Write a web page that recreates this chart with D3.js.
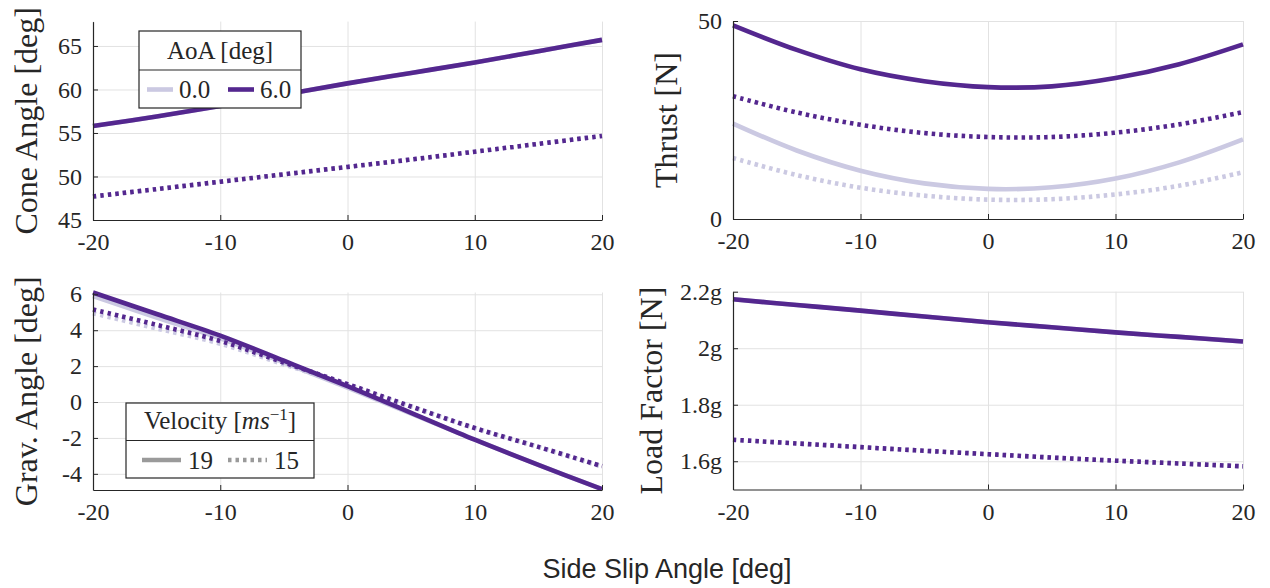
<!DOCTYPE html>
<html>
<head>
<meta charset="utf-8">
<script src="https://cdn.jsdelivr.net/npm/d3@7"></script>
<style>
  body { margin: 0; background: #fff; }
  text { fill: #262626; }
</style>
</head>
<body>
<svg id="chart"></svg>
<script>
var width = 1270,
    height = 588;

// side slip angle samples [deg]
var slip = [-20, -15, -10, -5, 0, 5, 10, 15, 20];

// cone angle [deg]  (AoA 0 lines sit under the AoA 6 ones)
var cone_aoa0_v19 = [55.8, 56.9, 58.1, 59.4, 60.7, 61.9, 63.1, 64.4, 65.7];
var cone_aoa0_v15 = [47.7, 48.55, 49.4, 50.25, 51.1, 51.95, 52.85, 53.75, 54.65];
var cone_aoa6_v19 = [55.8, 56.9, 58.1, 59.4, 60.7, 61.9, 63.1, 64.4, 65.7];
var cone_aoa6_v15 = [47.7, 48.55, 49.4, 50.25, 51.1, 51.95, 52.85, 53.75, 54.65];

// thrust [N]
var thrust_aoa0_v19 = [24.1, 17.3, 12.2, 9.0, 7.6, 8.0, 10.2, 14.3, 20.1];
var thrust_aoa0_v15 = [15.4, 11.1, 7.9, 5.9, 4.9, 5.0, 6.2, 8.4, 11.8];
var thrust_aoa6_v19 = [48.9, 42.7, 37.8, 34.8, 33.3, 33.5, 35.6, 39.1, 44.1];
var thrust_aoa6_v15 = [31.0, 26.9, 23.8, 21.7, 20.7, 20.7, 21.8, 23.9, 27.0];

// gravity angle [deg]
var grav_aoa0_v19 = [5.9, 4.7, 3.55, 2.2, 0.8, -0.65, -2.1, -3.5, -4.85];
var grav_aoa0_v15 = [4.95, 4.1, 3.25, 2.1, 0.95, -0.25, -1.45, -2.5, -3.6];
var grav_aoa6_v19 = [6.1, 4.9, 3.7, 2.3, 0.88, -0.6, -2.1, -3.5, -4.85];
var grav_aoa6_v15 = [5.15, 4.3, 3.4, 2.2, 1.0, -0.25, -1.45, -2.5, -3.57];

// load factor [g]
var load_aoa0_v19 = [2.173, 2.153, 2.133, 2.112, 2.092, 2.074, 2.056, 2.040, 2.024];
var load_aoa0_v15 = [1.676, 1.663, 1.650, 1.637, 1.625, 1.613, 1.602, 1.592, 1.582];
var load_aoa6_v19 = [2.173, 2.153, 2.133, 2.112, 2.092, 2.074, 2.056, 2.040, 2.024];
var load_aoa6_v15 = [1.676, 1.663, 1.650, 1.637, 1.625, 1.613, 1.602, 1.592, 1.582];

var xTicks = [-20, -10, 0, 10, 20];
var aoaLabels = ["0.0", "6.0"];
var velLabels = ["19", "15"];

var lightPurple = "#cbc9e2",
    darkPurple = "#54278f",
    legendGray = "#9a9a9a",
    serif = "'Liberation Serif', 'DejaVu Serif', serif";

// plain hyphen for negatives, like the original
var plain = function(d) { return String(d); };

var svg = d3.select("#chart")
    .attr("width", width)
    .attr("height", height);

var panels = [
  { left: 93, right: 602, top: 21.6, bottom: 220, domain: [45, 67.8], ticks: [45, 50, 55, 60, 65],
    fmt: plain, label: "Cone Angle [deg]", labelX: 37,
    series: [cone_aoa0_v19, cone_aoa0_v15, cone_aoa6_v19, cone_aoa6_v15] },
  { left: 733, right: 1243, top: 21, bottom: 219, domain: [0, 50], ticks: [0, 50],
    fmt: plain, label: "Thrust [N]", labelX: 677,
    series: [thrust_aoa0_v19, thrust_aoa0_v15, thrust_aoa6_v19, thrust_aoa6_v15] },
  { left: 93, right: 602, top: 292.5, bottom: 490, domain: [-4.9, 6.1], ticks: [-4, -2, 0, 2, 4, 6],
    fmt: plain, label: "Grav. Angle [deg]", labelX: 37,
    series: [grav_aoa0_v19, grav_aoa0_v15, grav_aoa6_v19, grav_aoa6_v15] },
  { left: 733, right: 1243, top: 291.7, bottom: 489.5, domain: [1.5, 2.2], ticks: [1.6, 1.8, 2.0, 2.2],
    fmt: function(d) { return d3.format("~g")(d) + "g"; }, label: "Load Factor [N]", labelX: 662,
    series: [load_aoa0_v19, load_aoa0_v15, load_aoa6_v19, load_aoa6_v15] }
];

// colour and dash for each series: AoA 0 / AoA 6, 19 / 15 m/s
var seriesStyle = [
  { color: lightPurple, dash: null },
  { color: lightPurple, dash: "3.5,4" },
  { color: darkPurple, dash: null },
  { color: darkPurple, dash: "3.5,4" }
];

panels.forEach(function(p) {
  var x = d3.scaleLinear().domain([-20, 20]).range([p.left, p.right]);
  var y = d3.scaleLinear().domain(p.domain).range([p.bottom, p.top]);
  var g = svg.append("g");

  // grid
  g.append("g")
    .attr("transform", "translate(0," + p.bottom + ")")
    .call(d3.axisBottom(x).tickValues(xTicks).tickSize(-(p.bottom - p.top)).tickFormat(""))
    .call(function(s) { s.select(".domain").remove(); })
    .selectAll("line").attr("stroke", "#e2e2e2").attr("stroke-width", 1);
  g.append("g")
    .attr("transform", "translate(" + p.left + ",0)")
    .call(d3.axisLeft(y).tickValues(p.ticks).tickSize(-(p.right - p.left)).tickFormat(""))
    .call(function(s) { s.select(".domain").remove(); })
    .selectAll("line").attr("stroke", "#e2e2e2").attr("stroke-width", 1);

  // lines
  var line = d3.line()
    .x(function(d, i) { return x(slip[i]); })
    .y(function(d) { return y(d); })
    .curve(d3.curveCatmullRom);

  p.series.forEach(function(vals, i) {
    g.append("path")
      .attr("d", line(vals))
      .attr("fill", "none")
      .attr("stroke", seriesStyle[i].color)
      .attr("stroke-width", 4.6)
      .attr("stroke-dasharray", seriesStyle[i].dash);
  });

  // axes (inward ticks)
  var xAxis = g.append("g")
    .attr("transform", "translate(0," + p.bottom + ")")
    .call(d3.axisBottom(x).tickValues(xTicks).tickSize(-5).tickSizeOuter(0).tickPadding(13).tickFormat(plain));
  var yAxis = g.append("g")
    .attr("transform", "translate(" + p.left + ",0)")
    .call(d3.axisLeft(y).tickValues(p.ticks).tickSize(-5).tickSizeOuter(0).tickPadding(11).tickFormat(p.fmt));

  [xAxis, yAxis].forEach(function(a) {
    a.attr("font-family", null);
    a.select(".domain").attr("stroke", "#262626").attr("stroke-width", 1.2);
    a.selectAll(".tick line").attr("stroke", "#262626");
    a.selectAll("text")
      .style("font-family", serif)
      .style("font-size", "24px")
      .attr("fill", "#262626");
  });

  g.append("text")
    .attr("transform", "translate(" + p.labelX + "," + ((p.top + p.bottom) / 2) + ") rotate(-90)")
    .attr("text-anchor", "middle")
    .style("font-family", serif)
    .style("font-size", "32px")
    .text(p.label);
});

// AoA legend
var leg1 = svg.append("g");
leg1.append("rect")
  .attr("x", 139).attr("y", 31).attr("width", 162).attr("height", 77)
  .attr("fill", "#fff").attr("stroke", "#262626").attr("stroke-width", 1.2);
leg1.append("line")
  .attr("x1", 139).attr("x2", 301).attr("y1", 70).attr("y2", 70)
  .attr("stroke", "#262626").attr("stroke-width", 1.2);
leg1.append("text")
  .attr("x", 220).attr("y", 59).attr("text-anchor", "middle")
  .style("font-family", serif).style("font-size", "25px")
  .text("AoA [deg]");
var aoaKey = [{ x: 147, color: lightPurple }, { x: 228, color: darkPurple }];
aoaKey.forEach(function(k, i) {
  leg1.append("line")
    .attr("x1", k.x).attr("x2", k.x + 26).attr("y1", 89.5).attr("y2", 89.5)
    .attr("stroke", k.color).attr("stroke-width", 4.6);
  leg1.append("text")
    .attr("x", k.x + 32).attr("y", 98)
    .style("font-family", serif).style("font-size", "25px")
    .text(aoaLabels[i]);
});

// Velocity legend
var leg2 = svg.append("g");
leg2.append("rect")
  .attr("x", 126).attr("y", 403).attr("width", 188).attr("height", 75)
  .attr("fill", "#fff").attr("stroke", "#262626").attr("stroke-width", 1.2);
leg2.append("line")
  .attr("x1", 126).attr("x2", 314).attr("y1", 440.5).attr("y2", 440.5)
  .attr("stroke", "#262626").attr("stroke-width", 1.2);
var vt = leg2.append("text")
  .attr("x", 220).attr("y", 429).attr("text-anchor", "middle")
  .style("font-family", serif).style("font-size", "25px");
vt.append("tspan").text("Velocity [");
vt.append("tspan").style("font-style", "italic").text("ms");
vt.append("tspan").attr("dy", -9).style("font-size", "17px").text("\u22121");
vt.append("tspan").attr("dy", 9).text("]");
var velKey = [{ x: 142, dash: null }, { x: 228, dash: "3.5,4" }];
velKey.forEach(function(k, i) {
  leg2.append("line")
    .attr("x1", k.x).attr("x2", k.x + 39).attr("y1", 460).attr("y2", 460)
    .attr("stroke", legendGray).attr("stroke-width", 4.6)
    .attr("stroke-dasharray", k.dash);
  leg2.append("text")
    .attr("x", k.x + 46).attr("y", 468.5)
    .style("font-family", serif).style("font-size", "25px")
    .text(velLabels[i]);
});

// shared x label
svg.append("text")
  .attr("x", 667).attr("y", 578)
  .attr("text-anchor", "middle")
  .style("font-family", "'Liberation Sans', Arial, sans-serif")
  .style("font-size", "27px")
  .text("Side Slip Angle [deg]");
</script>
</body>
</html>
